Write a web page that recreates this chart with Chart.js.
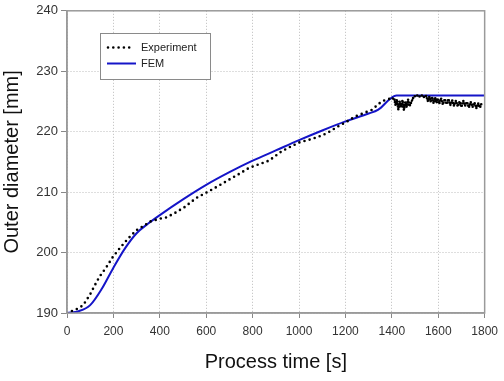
<!DOCTYPE html>
<html>
<head>
<meta charset="utf-8">
<script src="https://cdn.jsdelivr.net/npm/chart.js@4/dist/chart.umd.min.js"></script>
<style>
  html, body { margin: 0; padding: 0; background: #fff; }
  #wrap { width: 504px; height: 381px; position: relative; }
</style>
</head>
<body>
<div id="wrap"><canvas id="c" width="504" height="381"></canvas></div>
<script>
// ---- Data ----
const expTime = [0, 27, 50, 70, 100, 120, 140, 170, 198, 227, 263, 299, 334, 356, 399, 427, 463, 506, 556, 600, 656, 700, 741, 784, 813, 870, 927, 999, 1056, 1100, 1127, 1170, 1199, 1242, 1280, 1313, 1356, 1384, 1404,
  1410, 1416, 1422, 1428, 1434, 1440, 1446, 1452, 1458, 1464, 1470, 1476, 1484, 1492, 1500, 1510, 1520, 1530, 1540, 1548, 1556, 1562, 1568, 1574, 1580, 1586, 1592, 1598, 1604, 1612, 1620, 1628, 1636, 1644, 1652, 1660, 1668, 1676, 1684, 1692, 1700, 1708, 1716, 1724, 1732, 1740, 1748, 1756, 1764, 1772, 1780, 1786];
const expDiam = [190, 190.4, 190.8, 191.3, 193.1, 194.6, 196, 197.6, 199.3, 200.7, 202.3, 203.7, 204.5, 205.1, 205.6, 205.8, 206.5, 207.5, 209.0, 209.9, 211.1, 212.1, 213, 214.0, 214.4, 215.2, 216.8, 218.2, 218.8, 219.4, 219.9, 220.9, 221.5, 222.5, 223.1, 223.6, 225.0, 225.4, 225.5,
  225.5, 224.4, 225.3, 223.7, 225.0, 224.0, 225.2, 223.6, 224.9, 224.1, 225.3, 224.2, 224.9, 225.6, 225.9, 226.0, 225.8, 226.0, 225.7, 225.9, 225.0, 225.8, 224.9, 225.6, 224.7, 225.7, 224.8, 225.5, 224.6, 225.5, 224.5, 225.4, 224.6, 225.4, 224.4, 225.2, 224.3, 225.1, 224.2, 225.0, 224.1, 225.1, 224.3, 224.9, 224.0, 224.9, 224.1, 224.8, 223.9, 224.7, 224.0, 224.6];

const femTime = [0, 50, 100, 150, 200, 250, 300, 350, 400, 500, 600, 700, 800, 900, 1000, 1100, 1200, 1300, 1340, 1420, 1800];
const femDiam = [190, 190.3, 191.3, 194, 197.5, 200.7, 203.2, 204.8, 206.2, 208.8, 211.2, 213.3, 215.2, 216.9, 218.6, 220.2, 221.7, 223, 223.6, 226, 226];

const xTicks = [0, 200, 400, 600, 800, 1000, 1200, 1400, 1600, 1800];
const yTicks = [190, 200, 210, 220, 230, 240];

const seriesNames = ['Experiment', 'FEM'];
const xTitle = 'Process time [s]';
const yTitle = 'Outer diameter [mm]';

// ---- Build datasets ----
const toXY = (xs, ys) => xs.map((x, i) => ({ x: x, y: ys[i] }));
const BLUE = '#1515c8';
const FONT = '"Liberation Sans", Arial, sans-serif';

const framePlugin = {
  id: 'frame',
  afterDatasetsDraw(chart) {
    const a = chart.chartArea, ctx = chart.ctx;
    ctx.save();
    ctx.strokeStyle = '#9a9a9a';
    ctx.lineWidth = 1.5;
    ctx.setLineDash([]);
    ctx.strokeRect(a.left, a.top, a.right - a.left, a.bottom - a.top);
    ctx.restore();
  }
};

const legendPlugin = {
  id: 'boxLegend',
  afterDraw(chart) {
    const ctx = chart.ctx;
    ctx.save();
    ctx.fillStyle = '#ffffff';
    ctx.fillRect(100, 33, 110, 46);
    ctx.strokeStyle = '#8a8a8a';
    ctx.lineWidth = 1;
    ctx.strokeRect(100.5, 33.5, 110, 46);
    ctx.strokeStyle = '#000';
    ctx.lineWidth = 2.6;
    ctx.lineCap = 'round';
    ctx.setLineDash([0, 5.3]);
    ctx.beginPath(); ctx.moveTo(108, 47.5); ctx.lineTo(131, 47.5); ctx.stroke();
    ctx.setLineDash([]);
    ctx.lineCap = 'butt';
    ctx.strokeStyle = BLUE;
    ctx.lineWidth = 2;
    ctx.beginPath(); ctx.moveTo(107, 63.5); ctx.lineTo(136, 63.5); ctx.stroke();
    ctx.fillStyle = '#222';
    ctx.font = '11px ' + FONT;
    ctx.textBaseline = 'middle';
    ctx.textAlign = 'left';
    ctx.fillText(seriesNames[0], 141, 47.5);
    ctx.fillText(seriesNames[1], 141, 63.5);
    ctx.restore();
  }
};

new Chart(document.getElementById('c'), {
  type: 'line',
  data: {
    datasets: [
      {
        label: seriesNames[0],
        data: toXY(expTime, expDiam),
        borderColor: '#000',
        borderWidth: 2.6,
        borderDash: [0, 5.3],
        borderCapStyle: 'round',
        pointRadius: 0,
        tension: 0,
        fill: false,
        segment: {
          borderDash: (c) => (c.p0.parsed.x >= 1404 ? [0, 2.6] : undefined)
        }
      },
      {
        label: seriesNames[1],
        data: toXY(femTime, femDiam),
        borderColor: BLUE,
        borderWidth: 2,
        pointRadius: 0,
        cubicInterpolationMode: 'monotone',
        fill: false
      }
    ]
  },
  options: {
    responsive: false,
    animation: false,
    devicePixelRatio: 1,
    layout: { padding: { left: 0, right: 17, top: 10, bottom: 0 } },
    plugins: { legend: { display: false }, tooltip: { enabled: false } },
    scales: {
      x: {
        type: 'linear',
        min: 0, max: 1800,
        afterBuildTicks: (s) => { s.ticks = xTicks.map(v => ({ value: v })); },
        afterFit: (s) => { s.height = 68; },
        ticks: { color: '#333', font: { family: FONT, size: 12 }, padding: 6, maxRotation: 0, callback: (v) => String(v) },
        grid: { color: '#bcbcbc', tickColor: '#888', tickLength: 5, lineWidth: 1, tickBorderDash: [] },
        border: { display: true, color: '#9a9a9a', width: 1.5, dash: [1, 2] },
        title: { display: true, text: xTitle, color: '#111', font: { family: FONT, size: 20 }, padding: { top: 0, bottom: 7 } }
      },
      y: {
        type: 'linear',
        min: 190, max: 240,
        afterBuildTicks: (s) => { s.ticks = yTicks.map(v => ({ value: v })); },
        afterFit: (s) => { s.width = 67; },
        ticks: { color: '#333', font: { family: FONT, size: 13 }, padding: 3, callback: (v) => String(v) },
        grid: { color: '#bcbcbc', tickColor: '#888', tickLength: 6, lineWidth: 1, tickBorderDash: [] },
        border: { display: true, color: '#9a9a9a', width: 1.5, dash: [1, 2] },
        title: { display: true, text: yTitle, color: '#111', font: { family: FONT, size: 20 }, padding: { top: 0, bottom: 0 } }
      }
    }
  },
  plugins: [framePlugin, legendPlugin]
});
</script>
</body>
</html>
